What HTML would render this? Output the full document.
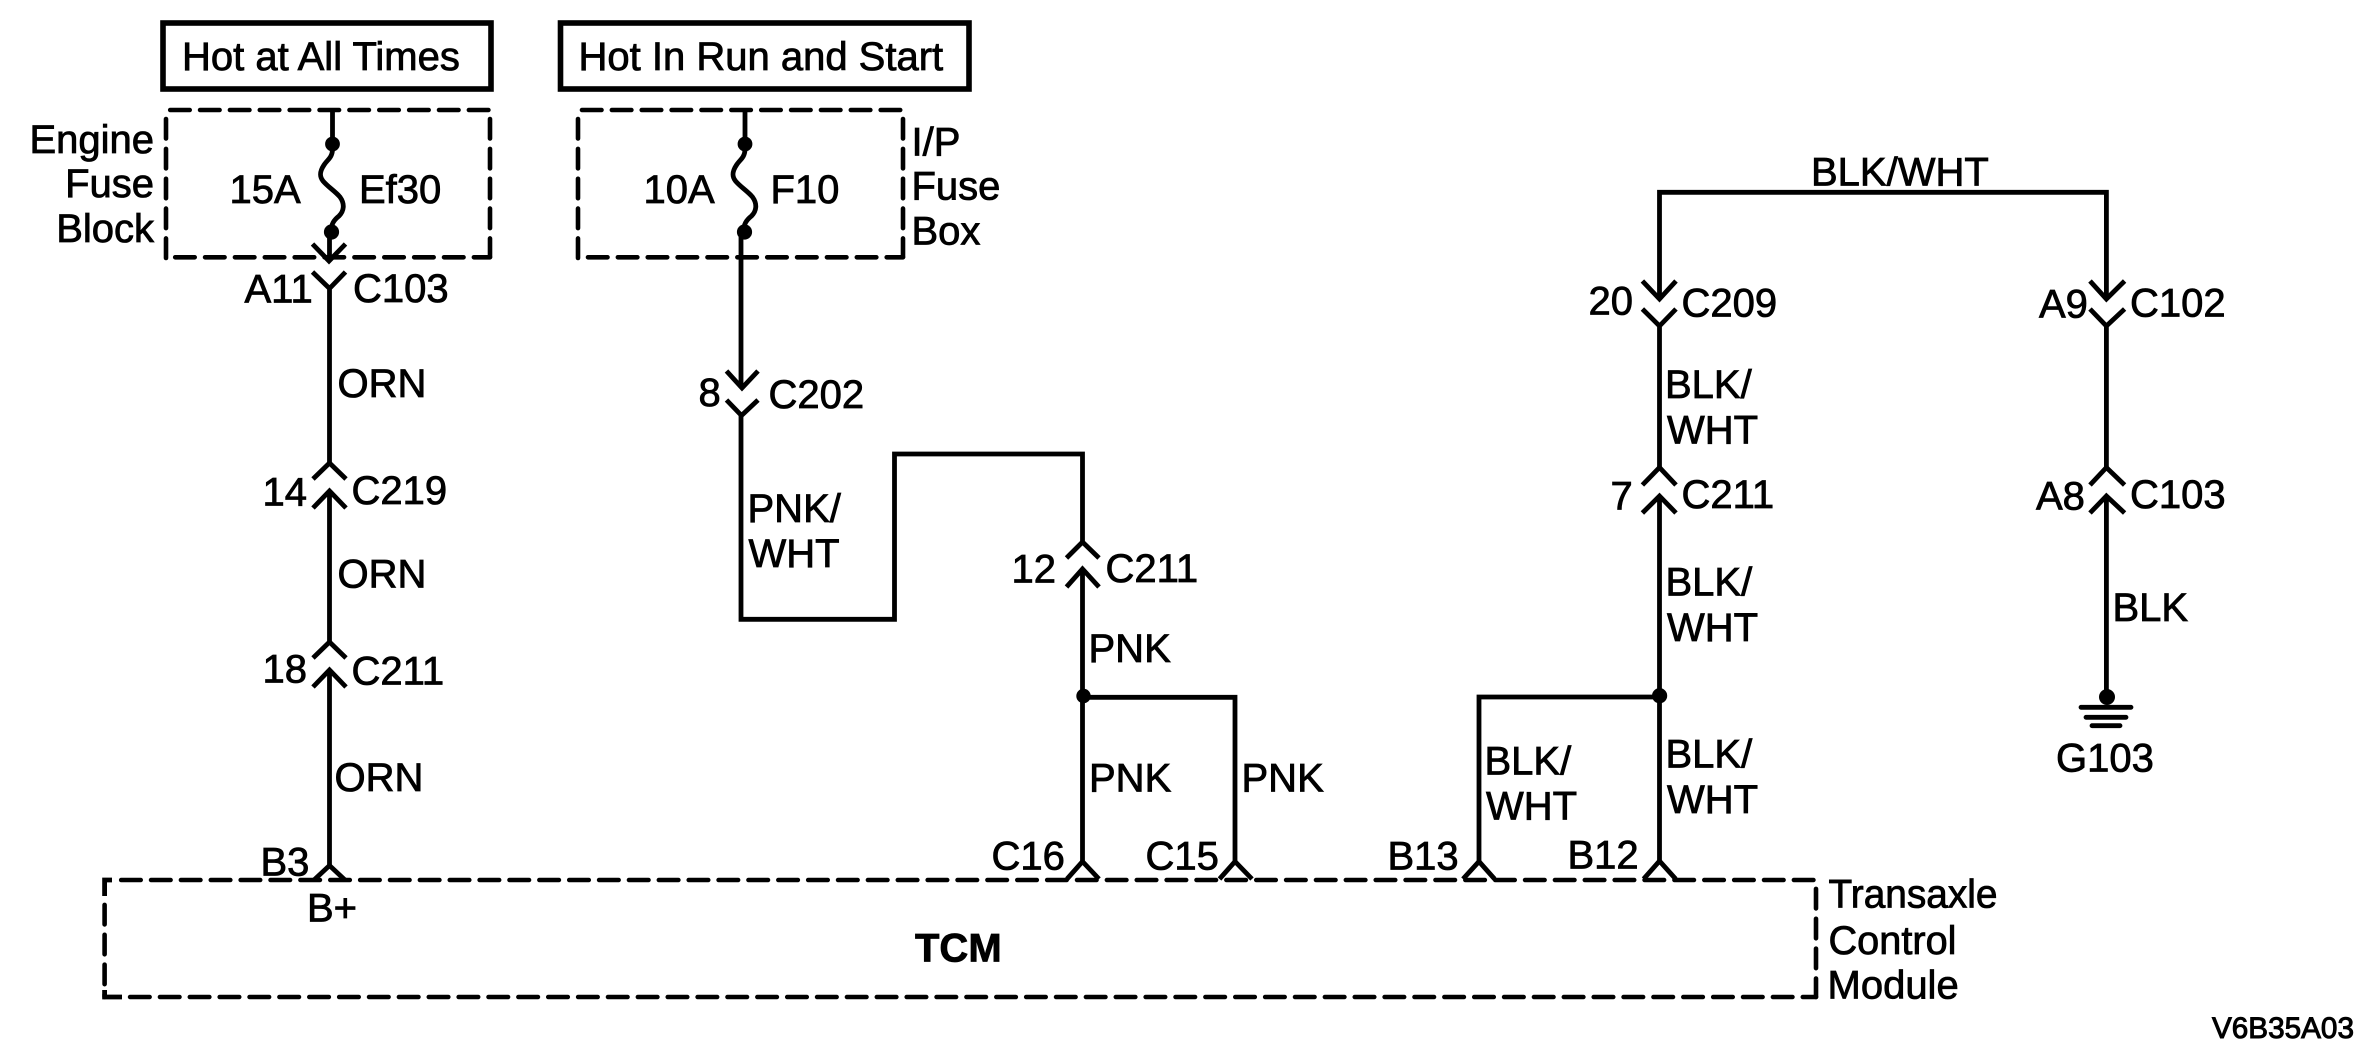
<!DOCTYPE html>
<html><head><meta charset="utf-8"><title>Wiring diagram</title>
<style>
html,body{margin:0;padding:0;background:#fff}
svg{display:block}
text{font-family:"Liberation Sans",Arial,sans-serif;font-size:40px;fill:#000;stroke:#000;stroke-width:.8px}
.w{fill:none;stroke:#000;stroke-width:4.8;stroke-linejoin:miter}
.b{fill:none;stroke:#000;stroke-width:5.6}
.d{fill:none;stroke:#000;stroke-width:4.6;stroke-linecap:round;stroke-dasharray:19.5 10.37}
.e{text-anchor:end}
</style></head>
<body>
<svg width="2369" height="1061" viewBox="0 0 2369 1061" xmlns="http://www.w3.org/2000/svg">
<rect width="2369" height="1061" fill="#fff"/>

<!-- Top boxes -->
<rect x="163" y="23" width="328" height="66" class="b"/>
<rect x="560.5" y="23" width="408.5" height="66" class="b"/>

<!-- Fuse box 1 dashed -->
<path class="d" d="M170.2 110H490"/>
<path class="d" d="M166 119V258"/>
<path class="d" d="M175.2 257.3H490"/>
<path class="d" d="M490 119V257"/>
<!-- Fuse box 2 dashed -->
<path class="d" d="M582 110H902"/>
<path class="d" d="M578 119V258"/>
<path class="d" d="M588 257.3H903"/>
<path class="d" d="M903 119V257"/>

<!-- TCM dashed -->
<path class="d" d="M121.2 880H1816"/>
<path class="d" d="M130.1 997H1816"/>
<path class="d" d="M104.6 904.9V997"/>
<path class="d" d="M1816 888.9V997"/>
<path class="w" d="M104.6 896V880H112"/>
<path class="w" d="M104.6 990V997H122"/>

<!-- Fuse 1 -->
<path class="w" d="M332.5 110V146M332.5 150C332 158 327 160 324 165C320 171 319 176 323 181C328 187 335 191 340 197C345 204 344 211 339 216C334 220 331 224 331 232"/>
<circle cx="332.5" cy="144" r="7.4"/>
<circle cx="331.5" cy="232" r="7.6"/>
<path class="w" d="M329.5 232V260M312.5 244L329 261L345.5 244"/>
<path class="w" d="M312.5 272L329.5 288.5L345.5 272M329.5 288V462"/>
<path class="w" d="M313 479L329.5 463L346 479"/>
<path class="w" d="M313 508L329.5 491L346 508M329.5 491V642"/>
<path class="w" d="M313 658L329.5 642L346 658"/>
<path class="w" d="M313 687L329.5 670L346 687M329.5 670V866"/>
<path class="w" d="M314 880L329.5 865.5L345 880"/>

<!-- Fuse 2 -->
<path class="w" d="M745 110V146M745 150C744.5 158 739.5 160 736.5 165C732.5 171 731.5 176 735.5 181C740.5 187 747.5 191 752.5 197C757.5 204 756.5 211 751.5 216C746.5 220 743.5 224 743.5 232"/>
<circle cx="745" cy="144" r="7.4"/>
<circle cx="744.5" cy="232" r="7.6"/>
<path class="w" d="M741 232V388M726.5 371L742 388L758 371"/>
<path class="w" d="M726.5 400L741.5 415.5L758 400"/>
<path class="w" d="M741 415V619.3H894.5V454H1082.5V542"/>
<path class="w" d="M1066.5 558L1082.5 542L1099 558"/>
<path class="w" d="M1066.5 587L1082.5 569L1099 587M1082.5 569V861"/>
<circle cx="1083.5" cy="696" r="7.2"/>
<path class="w" d="M1082.5 697.3H1235V862"/>
<path class="w" d="M1067 879L1082.5 861.5L1099 879"/>
<path class="w" d="M1219.5 879L1235 861.5L1252 879"/>

<!-- BLK/WHT -->
<path class="w" d="M1659.5 298V192.3H2106.4V298"/>
<path class="w" d="M1642.4 281L1659.5 299L1676 281"/>
<path class="w" d="M2090 281L2106.4 299L2124.6 281"/>
<path class="w" d="M1642.4 309L1659.5 326L1676 309M1659.5 326V467"/>
<path class="w" d="M2090 309L2106.4 326L2124.6 309M2106.4 326V467"/>
<path class="w" d="M1642.4 485L1659.5 467.5L1676 485"/>
<path class="w" d="M2090 485L2106.4 467.5L2124.6 485"/>
<path class="w" d="M1642.4 513L1659.5 496L1676 513M1659.5 496V861"/>
<path class="w" d="M2090 513L2106.4 496L2124.6 513M2106.4 496V697"/>
<circle cx="1659.6" cy="695.7" r="7.6"/>
<path class="w" d="M1659.5 697H1479V862"/>
<path class="w" d="M1463 879L1479 861.5L1494.6 879"/>
<path class="w" d="M1643.6 879L1659.5 861L1675.7 879"/>

<!-- Ground -->
<circle cx="2107" cy="697" r="8"/>
<path class="w" d="M2081 707.3H2131M2086 717.3H2126M2092 725.7H2120" stroke-linecap="round"/>

<!-- Labels -->
<g transform="translate(1.5 0.5)">
<text x="180.5" y="69.5">Hot at All Times</text>
<text x="577" y="69.5">Hot In Run and Start</text>
<text class="e" x="152.5" y="152.7">Engine</text>
<text class="e" x="152.5" y="196.7">Fuse</text>
<text class="e" x="152.5" y="241.7">Block</text>
<text x="228" y="202.5">15A</text>
<text x="357.5" y="202.5">Ef30</text>
<text x="243" y="302">A11</text>
<text x="351.5" y="301.5">C103</text>
<text x="642" y="202.5">10A</text>
<text x="769" y="202.5">F10</text>
<text x="910" y="155">I/P</text>
<text x="910" y="199">Fuse</text>
<text x="910" y="244">Box</text>
<text x="336" y="396.7">ORN</text>
<text x="336" y="587">ORN</text>
<text x="333" y="790.7">ORN</text>
<text x="261" y="505">14</text>
<text x="350" y="503.5">C219</text>
<text x="261" y="682">18</text>
<text x="350" y="684">C211</text>
<text x="697" y="405.5">8</text>
<text x="767" y="407.5">C202</text>
<text x="746" y="521.7">PNK/</text>
<text x="747" y="566.7">WHT</text>
<text x="1010" y="582">12</text>
<text x="1104" y="581.7">C211</text>
<text x="1087" y="661.7">PNK</text>
<text x="1087.5" y="791">PNK</text>
<text x="1240" y="791">PNK</text>
<text x="990" y="869">C16</text>
<text x="1144" y="869">C15</text>
<text x="1386" y="869">B13</text>
<text x="1566" y="868">B12</text>
<text x="259" y="875">B3</text>
<text x="305.5" y="921">B+</text>
<text x="913.5" y="961" style="font-weight:bold">TCM</text>
<text x="1809.5" y="185.2">BLK/WHT</text>
<text x="1587" y="314">20</text>
<text x="1680" y="316">C209</text>
<text x="2037.5" y="317">A9</text>
<text x="2128.5" y="316">C102</text>
<text x="1663.5" y="397.7">BLK/</text>
<text x="1665.5" y="443">WHT</text>
<text x="1609" y="509">7</text>
<text x="1680" y="507.7">C211</text>
<text x="2034.5" y="509">A8</text>
<text x="2128.5" y="507.7">C103</text>
<text x="1664" y="595">BLK/</text>
<text x="1665.5" y="640.7">WHT</text>
<text x="1664" y="767">BLK/</text>
<text x="1665.5" y="812.7">WHT</text>
<text x="1483" y="774">BLK/</text>
<text x="1484.5" y="819">WHT</text>
<text x="2111" y="620.5">BLK</text>
<text x="2054.5" y="771.2">G103</text>
<text x="1827" y="907.2" textLength="169" lengthAdjust="spacingAndGlyphs">Transaxle</text>
<text x="1827" y="953.3" textLength="128" lengthAdjust="spacingAndGlyphs">Control</text>
<text x="1826" y="998">Module</text>
<text x="2210.5" y="1037.5" style="font-size:29.7px;stroke-width:1px">V6B35A03</text>
</g>
</svg>
</body></html>
